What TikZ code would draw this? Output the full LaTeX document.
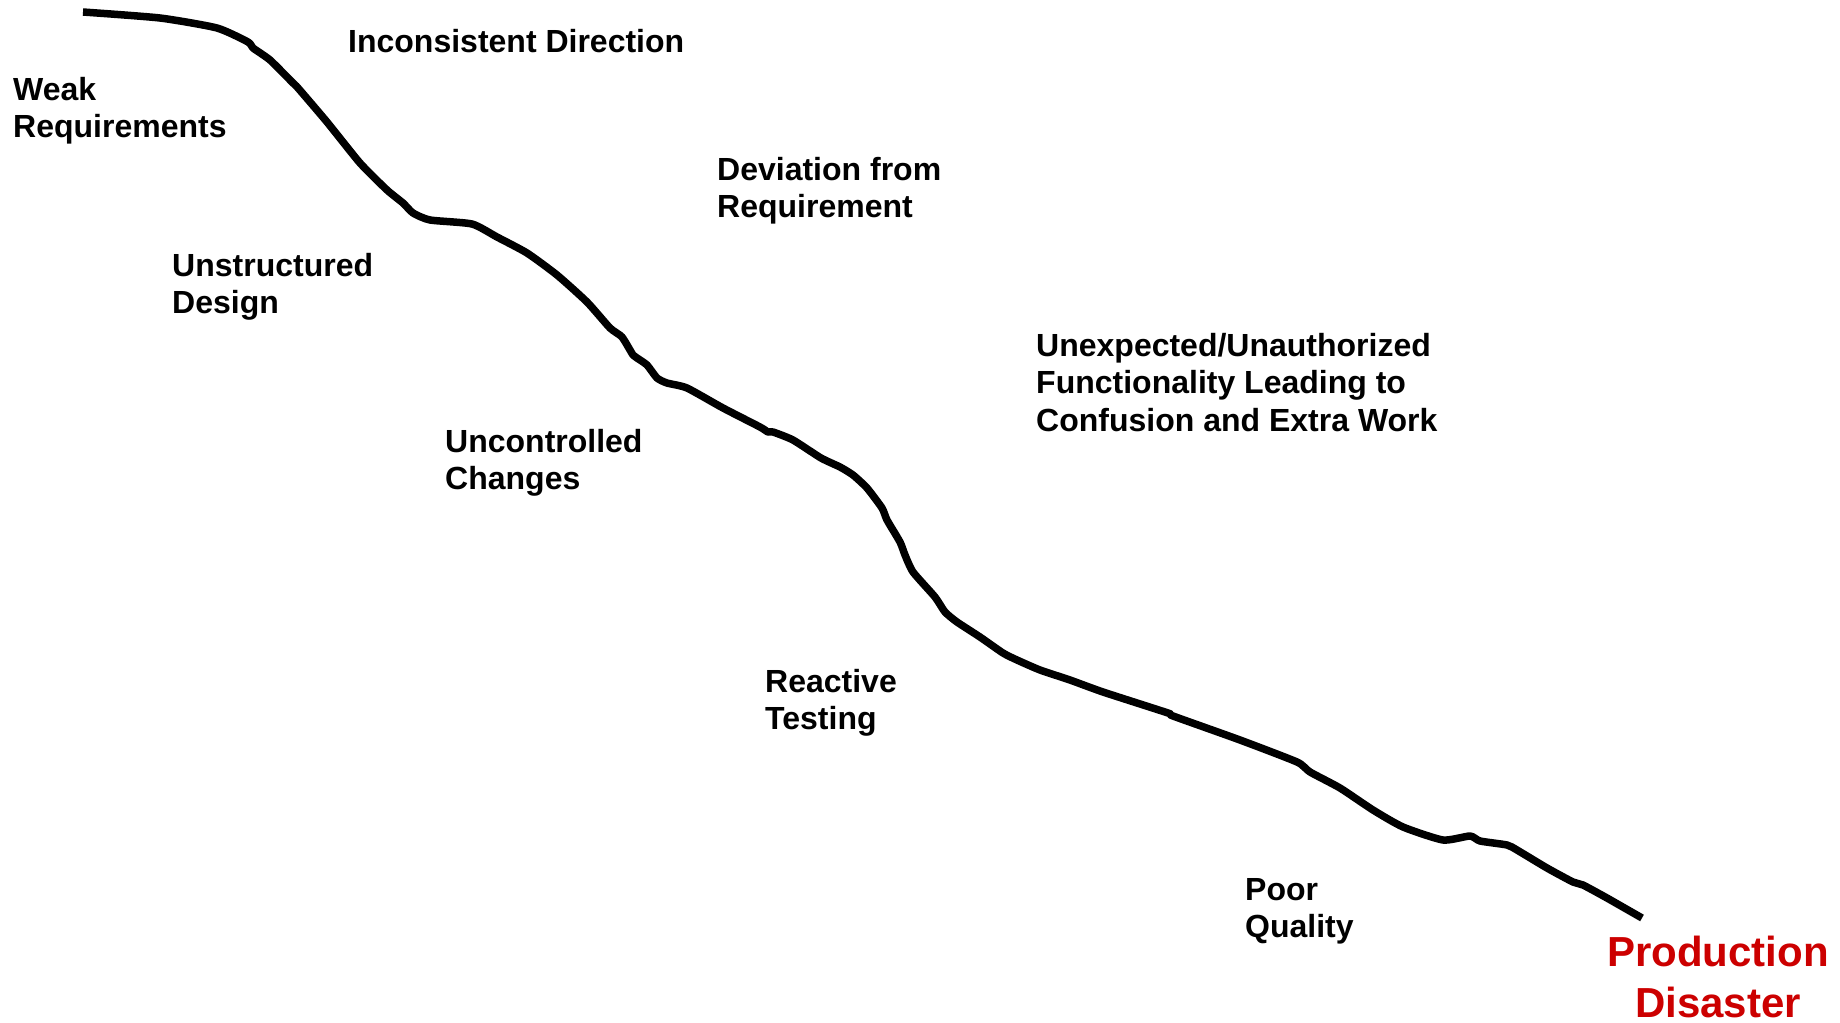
\documentclass[tikz,border=0pt]{standalone}
\usepackage{fontspec}
\setmainfont{Liberation Sans}
\definecolor{disaster}{RGB}{204,0,0}
\begin{document}
\begin{tikzpicture}[x=1pt,y=-1pt,
  lbl/.style={anchor=north west,inner sep=0pt,align=left,font=\fontsize{32}{37.5}\selectfont\bfseries},
  endlbl/.style={anchor=north,inner sep=0pt,align=center,text=disaster,font=\fontsize{42}{51}\selectfont\bfseries},
  slope/.style={line width=7.5pt,line join=round}]
\useasboundingbox[fill=white] (0,0) rectangle (1840,1023);
\draw[slope] plot[smooth,tension=0.35] coordinates {
(83,12) (160,18) (217,28) (248,42) (253,48) (270,60) (293,83) (298,88) (327,122) (360,163) (387,190) (403,203) (413,213) (430,220) (472,224) (497,237) (527,253) (557,275) (587,302) (610,328) (622,337) (633,355) (637,358) (647,365) (657,378) (667,383) (687,388) (723,408) (760,427) (768,432) (773,432) (793,440) (821,458) (840,467) (853,475) (867,488) (882,508) (887,520) (900,542) (905,555) (913,572) (935,597) (945,612) (957,622) (980,637) (1003,653) (1017,660) (1040,670) (1070,680) (1103,692) (1168,713) (1173,716) (1240,740) (1297,762) (1310,772) (1340,788) (1373,810) (1403,827) (1443,840) (1470,836) (1480,841) (1507,845) (1517,850) (1547,868) (1573,882) (1583,885) (1607,898) (1642,918)};
\node[lbl] (weak) at (13,77) {Weak\\Requirements};
\node[lbl] (incons) at (348,29) {Inconsistent Direction};
\node[lbl] (unstr) at (172,253) {Unstructured\\Design};
\node[lbl] (dev) at (717,157) {Deviation from\\Requirement};
\node[lbl] (uncon) at (445,429) {Uncontrolled\\Changes};
\node[lbl] (unexp) at (1036,333) {Unexpected/Unauthorized\\Functionality Leading to\\Confusion and Extra Work};
\node[lbl] (react) at (765,669) {Reactive\\Testing};
\node[lbl] (poor) at (1245,878) {Poor\\Quality};
\node[endlbl] (prod) at (1718,936) {Production\\Disaster};
\end{tikzpicture}
\end{document}
